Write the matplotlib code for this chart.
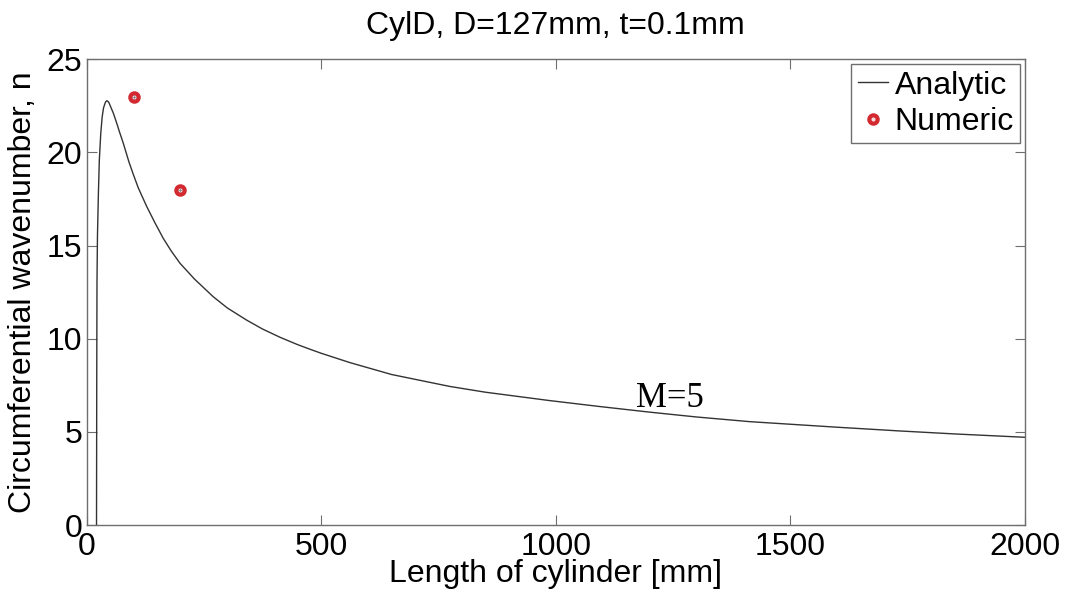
import matplotlib
matplotlib.use("Agg")
import matplotlib.pyplot as plt

# Analytic curve
length_analytic = [21, 21.5, 22, 23, 25, 27, 30, 33, 36, 40, 43, 47, 52, 57, 65, 70,
                   78, 90, 99, 110, 128, 145, 163, 180, 199, 230, 270, 300, 341, 375,
                   412, 450, 480, 500, 561, 650, 774, 850, 987, 1094, 1200, 1300, 1413,
                   1600, 1733, 1850, 2000]
n_analytic = [0, 8.0, 13.0, 15.5, 17.8, 19.6, 21.0, 21.9, 22.4, 22.7, 22.78, 22.7, 22.4,
              22.1, 21.5, 21.1, 20.5, 19.5, 18.85, 18.1, 17.1, 16.25, 15.4, 14.72, 14.05,
              13.2, 12.25, 11.65, 11.0, 10.52, 10.08, 9.68, 9.4, 9.22, 8.72, 8.08, 7.44,
              7.13, 6.68, 6.36, 6.06, 5.8, 5.55, 5.25, 5.05, 4.89, 4.71]

# Numeric results
length_numeric = [100, 200]
n_numeric = [23, 18]

title = "CylD, D=127mm, t=0.1mm"
xlabel = "Length of cylinder [mm]"
ylabel = "Circumferential wavenumber, n"
xticks = [0, 500, 1000, 1500, 2000]
yticks = [0, 5, 10, 15, 20, 25]

plt.rcParams['font.family'] = ['Liberation Sans', 'DejaVu Sans']

fig = plt.figure(figsize=(10.66, 5.95), dpi=100)
ax = fig.add_axes([0.0813, 0.1176, 0.8802, 0.7827])

axcol = '#6e6e6e'
red = '#d22a30'

ax.plot(length_analytic, n_analytic, color='#333333', lw=1.0, label='Analytic')
ax.plot(length_numeric, n_numeric, linestyle='none', marker='o', ms=6, mew=3,
        mec=red, mfc='#f4dede', label='Numeric')
ax.plot(length_numeric, n_numeric, linestyle='none', marker='+', ms=3, mew=0.6,
        color='#888888')

ax.text(1171, 6.35, "M=5", family='Liberation Serif', fontsize=25,
        ha='left', va='baseline', color='black')

ax.set_xlim(0, 2000)
ax.set_ylim(0, 25)
ax.set_xticks(xticks)
ax.set_yticks(yticks)
ax.tick_params(direction='in', length=7, width=0.8, color=axcol,
               top=True, right=True, labelsize=23)
ax.tick_params(axis='x', pad=5)
ax.tick_params(axis='y', pad=3)
for s in ax.spines.values():
    s.set_color(axcol)
    s.set_linewidth(1.0)

ax.set_title(title, fontsize=23, pad=18)
ax.set_xlabel(xlabel, fontsize=23)
ax.set_ylabel(ylabel, fontsize=23)
ax.xaxis.set_label_coords(0.5, -0.074)
ax.yaxis.set_label_coords(-0.052, 0.5)

leg = ax.legend(loc='upper right', fontsize=23, fancybox=False, framealpha=1,
                edgecolor=axcol, borderaxespad=0.15, handlelength=0.95,
                handletextpad=0.2, labelspacing=0.2, borderpad=0.2,
                markerscale=1.0)
leg.get_frame().set_linewidth(1.0)

fig.savefig("out.png", dpi=100)
